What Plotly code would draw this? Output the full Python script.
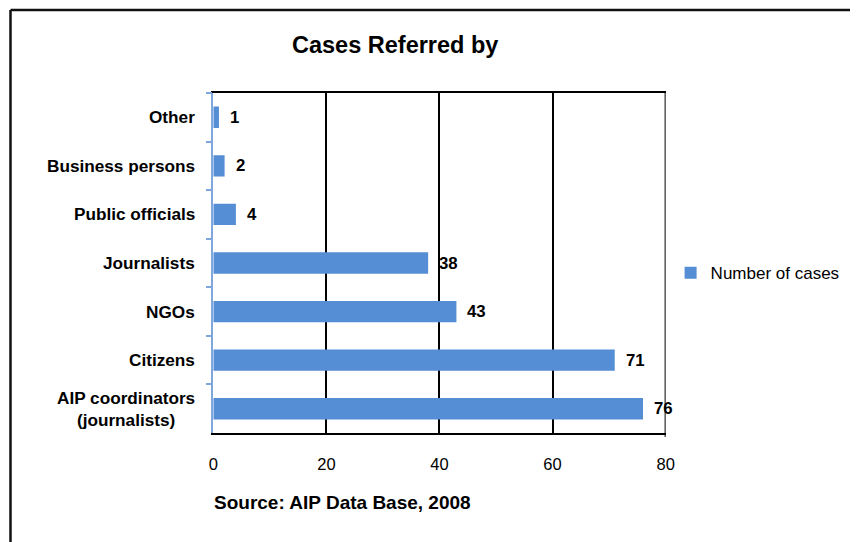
import plotly.graph_objects as go

# Referral sources, listed bottom-to-top on the category axis
categories = ["AIP coordinators<br>(journalists)", "Citizens", "NGOs",
              "Journalists", "Public officials", "Business persons", "Other"]
cases = [76, 71, 43, 38, 4, 2, 1]
x_ticks = [0, 20, 40, 60, 80]

BAR = "#558ED5"
AXIS_BLUE = "#7FA7DB"
FONT = "Liberation Sans, Arial, sans-serif"

fig = go.Figure()
fig.add_trace(go.Bar(
    x=cases, y=categories, orientation="h",
    name="Number of cases",
    marker=dict(color=BAR, line=dict(width=0)),
    cliponaxis=False,
))

# Value labels beside each bar
for c, v in zip(categories, cases):
    fig.add_annotation(x=v, y=c, xref="x", yref="y", text=f"<b>{v}</b>",
                       showarrow=False, xanchor="left", xshift=9,
                       font=dict(family=FONT, size=16.8, color="black"))

# Category labels, centred line by line
for c in categories:
    fig.add_annotation(x=0, y=c, xref="x", yref="y", text=f"<b>{c}</b>",
                       showarrow=False, xanchor="right", xshift=-16,
                       align="center",
                       font=dict(family=FONT, size=17.2, color="black"))

# Title and source note
fig.add_annotation(x=0.4611, y=0.917, xref="paper", yref="paper",
                   text="<b>Cases Referred by</b>", showarrow=False,
                   xanchor="center", yanchor="middle",
                   font=dict(family=FONT, size=23.5, color="black"))
fig.add_annotation(x=0.2455, y=0.0738, xref="paper", yref="paper",
                   text="<b>Source: AIP Data Base, 2008</b>", showarrow=False,
                   xanchor="left", yanchor="middle",
                   font=dict(family=FONT, size=19, color="black"))

# Right edge of the plot area at the axis maximum
fig.add_shape(type="line", xref="x", yref="y domain",
              x0=x_ticks[-1], x1=x_ticks[-1], y0=-0.012, y1=1,
              line=dict(color="black", width=2))

# Chart frame (left and top edges)
fig.add_shape(type="line", xref="paper", yref="paper",
              x0=0.0065, x1=0.0065, y0=0.9815, y1=0,
              line=dict(color="#111111", width=2.5))
fig.add_shape(type="line", xref="paper", yref="paper",
              x0=0.0065, x1=1, y0=0.9815, y1=0.9815,
              line=dict(color="#111111", width=2.5))

fig.update_layout(
    width=859, height=542, autosize=False,
    margin=dict(l=0, r=0, t=0, b=0),
    paper_bgcolor="white", plot_bgcolor="white",
    font=dict(family=FONT, color="black"),
    bargap=0.56,
    showlegend=True,
    legend=dict(x=0.7877, y=0.496, xanchor="left", yanchor="middle",
                font=dict(family=FONT, size=17, color="black"),
                bgcolor="rgba(0,0,0,0)"),
    xaxis=dict(domain=[0.2465, 0.7818], range=[0, 80],
               tickvals=x_ticks, showgrid=True, gridcolor="black",
               gridwidth=2, showline=True, linecolor="black", linewidth=2,
               mirror=True, ticks="", zeroline=False,
               tickfont=dict(family=FONT, size=16.5, color="black"),
               ticklabelstandoff=15),
    yaxis=dict(domain=[0.2011, 0.8284], type="category",
               categoryorder="array", categoryarray=categories,
               showticklabels=False, showgrid=False, zeroline=False,
               showline=True, linecolor=AXIS_BLUE, linewidth=1.5,
               ticks="outside", tickson="boundaries", ticklen=6,
               tickcolor=AXIS_BLUE, tickwidth=1.5),
)

fig.write_html("out.html")
